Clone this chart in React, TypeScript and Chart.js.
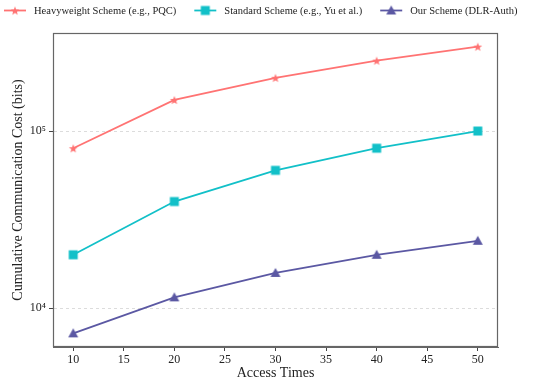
import React, { useEffect, useRef } from "react";
import { Chart, registerables } from "chart.js";

Chart.register(...registerables);

const accessTimes = [10, 20, 30, 40, 50];
const heavyweight = [80000, 150000, 200000, 250000, 300000];
const standard = [20000, 40000, 60000, 80000, 100000];
const ours = [7200, 11500, 15800, 20000, 24000];
const seriesLabels = [
  "Heavyweight Scheme (e.g., PQC)",
  "Standard Scheme (e.g., Yu et al.)",
  "Our Scheme (DLR-Auth)",
];
const xTickValues = [10, 15, 20, 25, 30, 35, 40, 45, 50];
const yTickValues = [10000, 100000];
const yTickLabels = ["10\u2074", "10\u2075"];

const FONT = "'Liberation Serif', 'Times New Roman', serif";
const COLORS = ["#FF7373", "#12C0C8", "#5B58A3"];

function makeMarker(kind: string, color: string): HTMLCanvasElement {
  const size = 12;
  const c = document.createElement("canvas");
  c.width = size;
  c.height = size;
  const ctx = c.getContext("2d")!;
  ctx.fillStyle = color;
  const cx = size / 2;
  const cy = size / 2;
  ctx.beginPath();
  if (kind === "star") {
    const R = 4.6;
    const r = 2.0;
    for (let i = 0; i < 10; i++) {
      const rad = i % 2 === 0 ? R : r;
      const a = -Math.PI / 2 + (i * Math.PI) / 5;
      const px = cx + rad * Math.cos(a);
      const py = cy + 0.5 + rad * Math.sin(a);
      if (i === 0) ctx.moveTo(px, py);
      else ctx.lineTo(px, py);
    }
    ctx.closePath();
  } else if (kind === "square") {
    ctx.rect(cx - 4.5, cy - 4.5, 9, 9);
  } else {
    ctx.moveTo(cx, cy - 5);
    ctx.lineTo(cx + 5, cy + 4);
    ctx.lineTo(cx - 5, cy + 4);
    ctx.closePath();
  }
  ctx.fill();
  return c;
}

export default function App() {
  const ref = useRef<HTMLCanvasElement | null>(null);

  useEffect(() => {
    if (!ref.current) return;
    const markers = [
      makeMarker("star", COLORS[0]),
      makeMarker("square", COLORS[1]),
      makeMarker("triangle", COLORS[2]),
    ];
    const seriesData = [heavyweight, standard, ours];

    const framePlugin = {
      id: "frameAndLegend",
      afterDraw(chart: any) {
        const { ctx, chartArea } = chart;
        ctx.save();
        ctx.strokeStyle = "#666";
        ctx.lineWidth = 1.2;
        ctx.strokeRect(
          Math.round(chartArea.left) + 0.5,
          Math.round(chartArea.top) + 0.5,
          Math.round(chartArea.right - chartArea.left) - 1,
          Math.round(chartArea.bottom - chartArea.top) - 1
        );
        // legend
        ctx.font = `10.5px ${FONT}`;
        ctx.textBaseline = "middle";
        ctx.textAlign = "left";
        let x = 4;
        const y = 10.5;
        seriesLabels.forEach((label, i) => {
          ctx.strokeStyle = COLORS[i];
          ctx.lineWidth = 1.8;
          ctx.beginPath();
          ctx.moveTo(x, y);
          ctx.lineTo(x + 22, y);
          ctx.stroke();
          ctx.drawImage(markers[i], x + 11 - 6, y - 6);
          ctx.fillStyle = "#222";
          ctx.fillText(label, x + 30, y + 1);
          x += 30 + ctx.measureText(label).width + 18;
        });
        ctx.restore();
      },
    };

    const chart = new Chart(ref.current, {
      type: "line",
      data: {
        datasets: seriesData.map((arr, i) => ({
          label: seriesLabels[i],
          data: arr.map((v, j) => ({ x: accessTimes[j], y: v })),
          borderColor: COLORS[i],
          backgroundColor: COLORS[i],
          borderWidth: 1.8,
          pointStyle: markers[i] as any,
          pointRadius: 5,
          pointHoverRadius: 5,
          tension: 0,
          fill: false,
        })),
      },
      options: {
        animation: false,
        responsive: false,
        layout: { padding: { top: 33, right: 52, left: 0, bottom: 0 } },
        plugins: {
          legend: { display: false },
          tooltip: { enabled: false },
        },
        scales: {
          x: {
            type: "linear",
            min: 8,
            max: 52,
            afterBuildTicks: (s: any) => {
              s.ticks = xTickValues.map((v) => ({ value: v }));
            },
            afterFit: (s: any) => {
              s.height = 38;
            },
            ticks: {
              color: "#222",
              font: { family: FONT, size: 12 },
              padding: 2,
              maxRotation: 0,
              callback: (v: any) => String(v),
            },
            grid: {
              drawOnChartArea: false,
              drawTicks: true,
              tickLength: 4,
              tickColor: "#444",
            },
            border: { color: "#666", width: 1 },
            title: {
              display: true,
              text: "Access Times",
              color: "#222",
              font: { family: FONT, size: 14 },
              padding: { top: 0, bottom: 3 },
            },
          },
          y: {
            type: "logarithmic",
            min: 6030,
            max: 358000,
            afterBuildTicks: (s: any) => {
              s.ticks = yTickValues.map((v) => ({ value: v }));
            },
            afterFit: (s: any) => {
              s.width = 53;
            },
            ticks: {
              color: "#222",
              font: { family: FONT, size: 12 },
              padding: 3,
              callback: (v: any) => {
                const idx = yTickValues.indexOf(Number(v));
                return idx >= 0 ? yTickLabels[idx] : "";
              },
            },
            grid: {
              color: "#dcdcdc",
              tickColor: "#444",
              tickLength: 4,
              tickBorderDash: [],
            },
            border: { color: "#666", width: 1, dash: [3, 3] },
            title: {
              display: true,
              text: "Cumulative Communication Cost (bits)",
              color: "#222",
              font: { family: FONT, size: 14 },
              padding: { top: 10, bottom: 0 },
            },
          },
        },
      } as any,
      plugins: [framePlugin],
    });
    return () => chart.destroy();
  }, []);

  return (
    <canvas
      ref={ref}
      width={550}
      height={385}
      style={{ position: "absolute", left: 0, top: 0, width: 550, height: 385 }}
    />
  );
}
